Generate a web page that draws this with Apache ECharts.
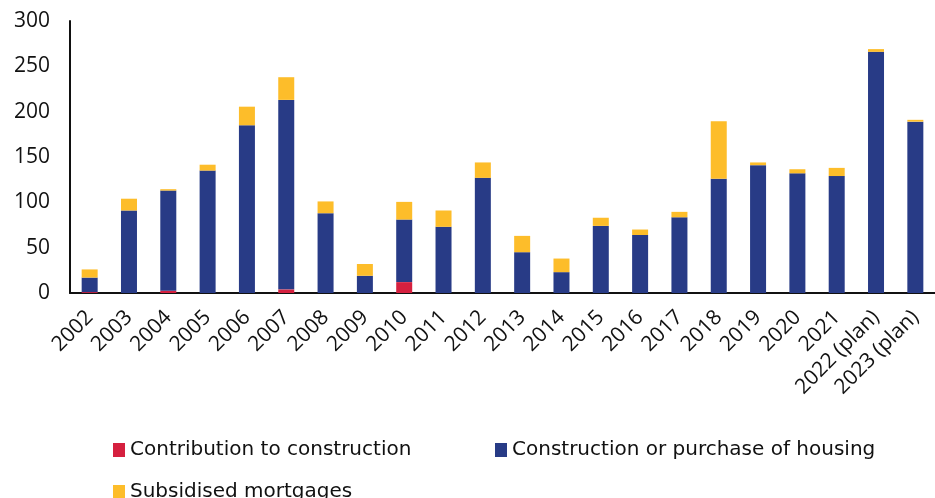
<!DOCTYPE html>
<html>
<head>
<meta charset="utf-8">
<script src="https://cdn.jsdelivr.net/npm/echarts@6/dist/echarts.min.js"></script>
<style>
  html, body { margin: 0; padding: 0; background: #ffffff; }
  #chart { width: 935px; height: 498px; }
</style>
</head>
<body>
<div id="chart"></div>
<script>
// Years on the horizontal axis
const years = ['2002', '2003', '2004', '2005', '2006', '2007', '2008', '2009', '2010', '2011',
  '2012', '2013', '2014', '2015', '2016', '2017', '2018', '2019', '2020', '2021',
  '2022 (plan)', '2023 (plan)'];

// Stacked components
const contribution = [1, 0, 2.5, 0, 0, 4, 0, 0, 12, 0, 0, 0, 0, 0, 0, 0, 0, 0, 0, 0, 0, 0];
const housing = [16, 91, 110.5, 135, 185, 209, 88, 19, 69, 73, 127, 45, 23, 74, 64, 83.5, 126, 141, 132, 129, 266, 189];
const mortgages = [9, 13, 1.5, 6.5, 20.5, 25, 13, 13, 19.5, 18, 17, 18, 15, 9, 6, 6, 63.5, 3, 4.5, 9, 3, 2];

const seriesNames = ['Contribution to construction', 'Construction or purchase of housing', 'Subsidised mortgages'];
const yTicks = { min: 0, max: 300, step: 50 };

const colors = ['#d5203f', '#283b86', '#fdbd2a'];
const fontFamily = '"Open Sans", "DejaVu Sans", sans-serif';
const legendFont = '"DejaVu Sans", sans-serif';

const chart = echarts.init(document.getElementById('chart'), null, { renderer: 'canvas' });

function makeSeries(name, data, color) {
  return {
    name: name,
    type: 'bar',
    stack: 'total',
    data: data,
    barWidth: 16,
    itemStyle: { color: color },
    emphasis: { disabled: true }
  };
}

function legendAt(name, left, top) {
  return {
    data: [name],
    left: left,
    top: top,
    itemWidth: 12,
    itemHeight: 14,
    itemGap: 6,
    icon: 'rect',
    selectedMode: false,
    textStyle: { fontFamily: legendFont, fontSize: 20, color: '#111111' }
  };
}

chart.setOption({
  animation: false,
  backgroundColor: '#ffffff',
  color: colors,
  grid: { left: 70, right: -11, top: 21, bottom: 205, containLabel: false },
  legend: [
    legendAt(seriesNames[0], 108, 435),
    legendAt(seriesNames[1], 490, 435),
    legendAt(seriesNames[2], 108, 477)
  ],
  xAxis: {
    type: 'category',
    data: years,
    axisLine: { show: true, lineStyle: { color: '#111111', width: 2 } },
    axisTick: { show: false },
    axisLabel: {
      rotate: 45,
      interval: 0,
      margin: 21,
      fontFamily: fontFamily,
      fontSize: 21,
      color: '#111111'
    }
  },
  yAxis: {
    type: 'value',
    min: yTicks.min,
    max: yTicks.max,
    interval: yTicks.step,
    splitLine: { show: false },
    axisLine: { show: true, lineStyle: { color: '#111111', width: 2 } },
    axisTick: { show: false },
    axisLabel: {
      margin: 20,
      fontFamily: fontFamily,
      fontSize: 21,
      color: '#111111'
    }
  },
  series: [
    makeSeries(seriesNames[0], contribution, colors[0]),
    makeSeries(seriesNames[1], housing, colors[1]),
    makeSeries(seriesNames[2], mortgages, colors[2])
  ]
});
</script>
</body>
</html>
